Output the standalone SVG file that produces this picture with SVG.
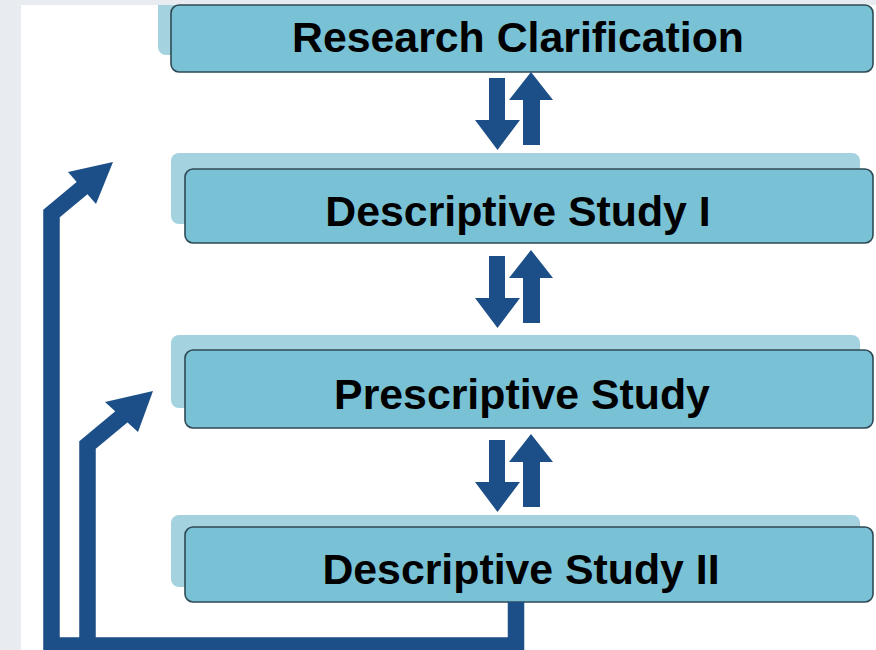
<svg xmlns="http://www.w3.org/2000/svg" width="876" height="650" viewBox="0 0 876 650">
  <defs>
    <style>
      .back { fill: #a4d2df; }
      .main { fill: #79c1d5; stroke: #2f4a55; stroke-width: 1.6; }
      .label { font-family: "Liberation Sans", Arial, sans-serif; font-weight: bold; font-size: 42.8px; fill: #000; text-anchor: middle; }
      .flow { fill: none; stroke: #1c4f87; stroke-width: 16.5; stroke-linejoin: miter; }
      .head { fill: #1c4f87; }
    </style>
    <!-- paired down/up arrow between stages; origin = tip of the up arrow's row -->
    <g id="swap">
      <polygon class="head" points="489,6 505,6 505,48 520,48 497.5,78 475,48 489,48"/>
      <polygon class="head" points="531,0 553,28 540,28 540,73 523,73 523,28 509,28"/>
    </g>
  </defs>

  <!-- page -->
  <rect x="0" y="0" width="876" height="650" fill="#e8ecf1"/>
  <rect x="21" y="5" width="855" height="645" fill="#ffffff"/>

  <g id="research-clarification">
    <path class="back" d="M158,5 H860 V47 A8,8 0 0 1 852,55 H166 A8,8 0 0 1 158,47 Z"/>
    <rect class="main" x="171" y="5" width="702" height="67" rx="8"/>
    <text class="label" x="518" y="52">Research Clarification</text>
  </g>

  <g id="descriptive-study-1">
    <rect class="back" x="171" y="153" width="689" height="71" rx="8"/>
    <rect class="main" x="185" y="169" width="688" height="74" rx="8"/>
    <text class="label" x="518" y="226">Descriptive Study I</text>
  </g>

  <g id="prescriptive-study">
    <rect class="back" x="171" y="335" width="689" height="73" rx="8"/>
    <rect class="main" x="185" y="350" width="688" height="78" rx="8"/>
    <text class="label" x="522" y="409">Prescriptive Study</text>
  </g>

  <g id="descriptive-study-2">
    <rect class="back" x="171" y="515" width="689" height="72" rx="8"/>
    <rect class="main" x="185" y="527" width="688" height="75" rx="8"/>
    <text class="label" x="521" y="584">Descriptive Study II</text>
  </g>

  <g id="connectors">
    <use href="#swap" transform="translate(0,72)"/>
    <use href="#swap" transform="translate(0,250)"/>
    <use href="#swap" transform="translate(0,434)"/>

    <!-- feedback loops from Descriptive Study II -->
    <path class="flow" d="M516,602 V645.5 H51.5 V213.5 L84,186.5"/>
    <polygon class="head" points="113,162 96,204 68,172"/>
    <path class="flow" d="M87.5,645.5 V445 L123,415.5"/>
    <polygon class="head" points="153,391 138,432 105,402"/>
  </g>
</svg>
